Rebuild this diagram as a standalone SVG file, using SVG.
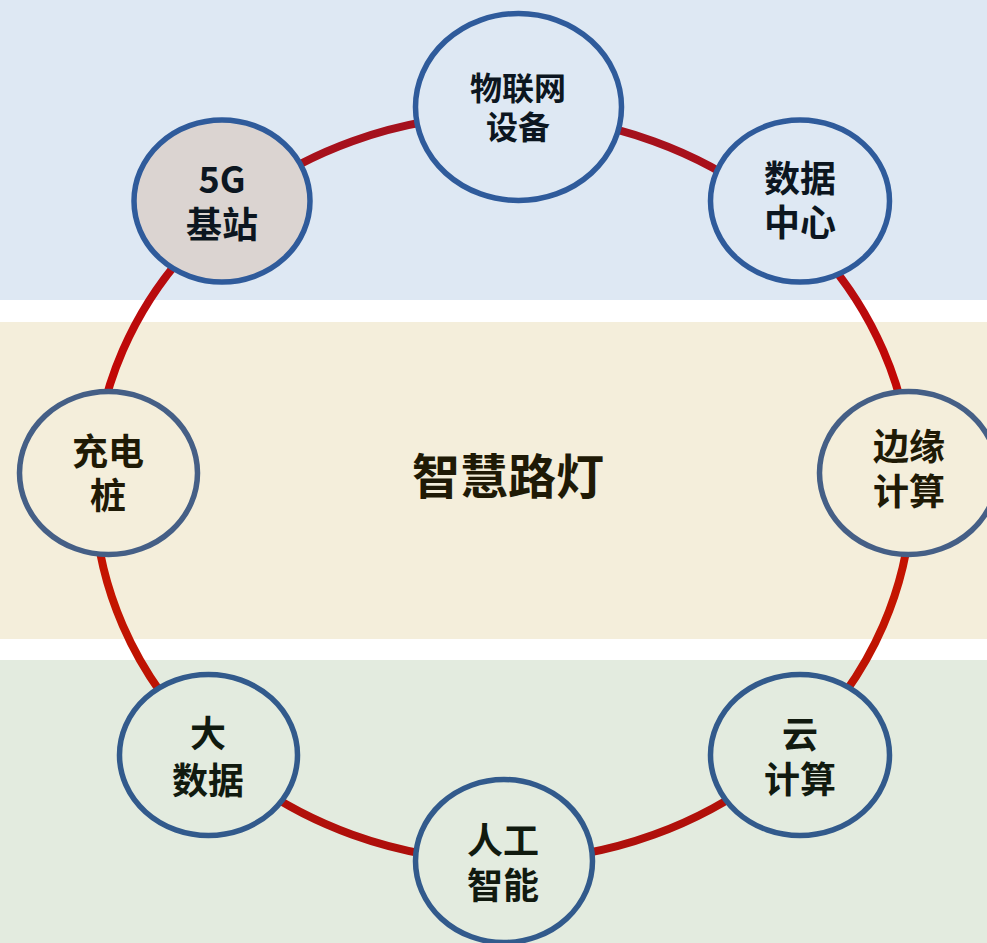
<svg xmlns="http://www.w3.org/2000/svg" width="987" height="943" viewBox="0 0 987 943">
<style>
.lbl{font-family:"Noto Sans CJK SC","Noto Sans",sans-serif;font-weight:700;text-anchor:middle}
.t1{fill:#0c1620;font-size:36px}
.t1s{fill:#0c1620;font-size:32px}
.t2{fill:#1f1a06;font-size:36px}
.t3{fill:#111a0f;font-size:36px}
.title{fill:#1f1a06;font-size:48px}
.nb{stroke:#2f5b9b;stroke-width:5.5}
.nm{stroke:#455f86;stroke-width:5.5}
.ng{stroke:#325a8c;stroke-width:5.5}
</style>
<defs>
<linearGradient id="ringGrad" gradientUnits="userSpaceOnUse" x1="0" y1="114" x2="0" y2="862">
<stop offset="0" stop-color="#a3121f"/>
<stop offset="0.35" stop-color="#c20806"/>
<stop offset="0.65" stop-color="#c41500"/>
<stop offset="1" stop-color="#ad0f0c"/>
</linearGradient>
</defs>
<g id="bands">
<rect x="0" y="0" width="987" height="300" fill="#dee8f3"/>
<rect x="0" y="300" width="987" height="22" fill="#ffffff"/>
<rect x="0" y="322" width="987" height="317" fill="#f4eedb"/>
<rect x="0" y="639" width="987" height="21" fill="#ffffff"/>
<rect x="0" y="660" width="987" height="283" fill="#e3ebdf"/>
</g>
<g id="connectors">
<ellipse cx="503" cy="488" rx="409" ry="373" fill="none" stroke="url(#ringGrad)" stroke-width="8"/>
</g>
<g id="title">
<text class="lbl title" x="508" y="494">智慧路灯</text>
</g>
<g id="node-iot">
<ellipse class="nb" cx="518.5" cy="107" rx="103" ry="93.5" fill="#dee8f3"/>
<text class="lbl t1s" x="518" y="100">物联网</text>
<text class="lbl t1s" x="518" y="139">设备</text>
</g>
<g id="node-5g">
<ellipse class="nb" cx="222" cy="201" rx="88" ry="81" fill="#dbd4d1"/>
<text class="lbl t1" x="222" y="193">5G</text>
<text class="lbl t1" x="222" y="238">基站</text>
</g>
<g id="node-datacenter">
<ellipse class="nb" cx="800" cy="201" rx="89.5" ry="81" fill="#dee8f3"/>
<text class="lbl t1" x="800" y="192">数据</text>
<text class="lbl t1" x="800" y="236">中心</text>
</g>
<g id="node-charging">
<ellipse class="nm" cx="108.5" cy="473" rx="89" ry="81.5" fill="#f4eedb"/>
<text class="lbl t2" x="108" y="465">充电</text>
<text class="lbl t2" x="108" y="509">桩</text>
</g>
<g id="node-edge">
<ellipse class="nm" cx="908.5" cy="473" rx="89" ry="81.5" fill="#f4eedb"/>
<text class="lbl t2" x="909" y="460">边缘</text>
<text class="lbl t2" x="909" y="505">计算</text>
</g>
<g id="node-bigdata">
<ellipse class="ng" cx="208.5" cy="755" rx="89" ry="80.5" fill="#e3ebdf"/>
<text class="lbl t3" x="208" y="747">大</text>
<text class="lbl t3" x="208" y="794">数据</text>
</g>
<g id="node-cloud">
<ellipse class="ng" cx="800" cy="755" rx="89.5" ry="80.5" fill="#e3ebdf"/>
<text class="lbl t3" x="800" y="748">云</text>
<text class="lbl t3" x="800" y="793">计算</text>
</g>
<g id="node-ai">
<ellipse class="ng" cx="504" cy="861" rx="88.5" ry="81.5" fill="#e3ebdf"/>
<text class="lbl t3" x="503" y="854">人工</text>
<text class="lbl t3" x="503" y="899">智能</text>
</g>
</svg>
